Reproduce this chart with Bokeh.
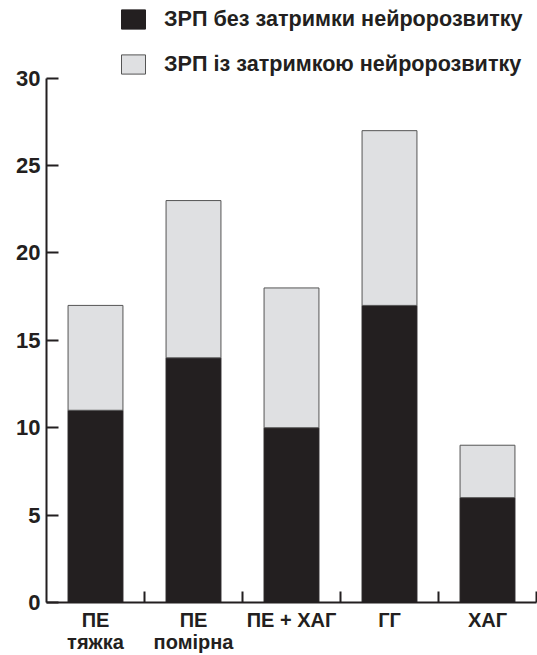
from bokeh.plotting import figure
from bokeh.models import ColumnDataSource, FixedTicker, Legend, LegendItem
from bokeh.embed import file_html
from bokeh.resources import INLINE

categories = ["ПЕ\nтяжка", "ПЕ\nпомірна", "ПЕ + ХАГ", "ГГ", "ХАГ"]
no_delay = [11, 14, 10, 17, 6]
with_delay = [6, 9, 8, 10, 3]
series_names = ["ЗРП без затримки нейророзвитку", "ЗРП із затримкою нейророзвитку"]
y_ticks = [0, 5, 10, 15, 20, 25, 30]
y_max = 30

FONT = "Liberation Sans"
INK = "#231f20"

xs = [i + 0.5 for i in range(len(categories))]
source = ColumnDataSource(dict(x=xs, a=no_delay, b=with_delay))

# frame spans the full height above the x axis; the y axis itself stops at 30
frame_h = 655 - 51
axis_h = 526
p = figure(width=537, height=655, x_range=(0, len(categories)),
           y_range=(0, y_max * frame_h / axis_h),
           output_backend="svg", toolbar_location=None,
           min_border_left=46, min_border_right=1, min_border_top=0, min_border_bottom=51)
p.grid.visible = False
p.outline_line_color = None
p.background_fill_color = "white"

rs = p.vbar_stack(["a", "b"], x="x", width=0.56, source=source,
                  fill_color=[INK, "#dfe0e2"], line_color=[INK, "#555555"], line_width=1)

# y axis
ya = p.yaxis[0]
ya.bounds = (0, y_max)
ya.ticker = FixedTicker(ticks=y_ticks, minor_ticks=[])
ya.major_tick_in = 12
ya.major_tick_out = 0
ya.minor_tick_in = 0
ya.minor_tick_out = 0
ya.axis_line_width = 2
ya.axis_line_color = INK
ya.major_tick_line_width = 2
ya.major_tick_line_color = INK
ya.major_label_text_font = FONT
ya.major_label_text_font_style = "bold"
ya.major_label_text_font_size = "22px"
ya.major_label_text_color = INK
ya.major_label_standoff = 6

# x axis
xa = p.xaxis[0]
xa.ticker = FixedTicker(ticks=xs, minor_ticks=[i + 1 for i in range(len(categories))])
xa.major_label_overrides = {x: c for x, c in zip(xs, categories)}
xa.major_tick_in = 0
xa.major_tick_out = 0
xa.minor_tick_in = 11
xa.minor_tick_out = 0
xa.minor_tick_line_width = 2
xa.minor_tick_line_color = INK
xa.axis_line_width = 2
xa.axis_line_color = INK
xa.major_label_text_font = FONT
xa.major_label_text_font_style = "bold"
xa.major_label_text_font_size = "20px"
xa.major_label_text_line_height = 1.0
xa.major_label_text_color = INK
xa.major_label_standoff = 6

legend = Legend(items=[LegendItem(label=series_names[0], renderers=[rs[0]]),
                       LegendItem(label=series_names[1], renderers=[rs[1]])],
                location=(72, 525), orientation="vertical",
                glyph_width=30, glyph_height=24, spacing=19, padding=0, margin=0,
                label_standoff=16, border_line_color=None, background_fill_alpha=0,
                label_text_font=FONT, label_text_font_style="bold",
                label_text_font_size="21.6px", label_text_color=INK,
                label_height=24)
p.add_layout(legend, "center")

open("out.html", "w").write(file_html(p, INLINE))
